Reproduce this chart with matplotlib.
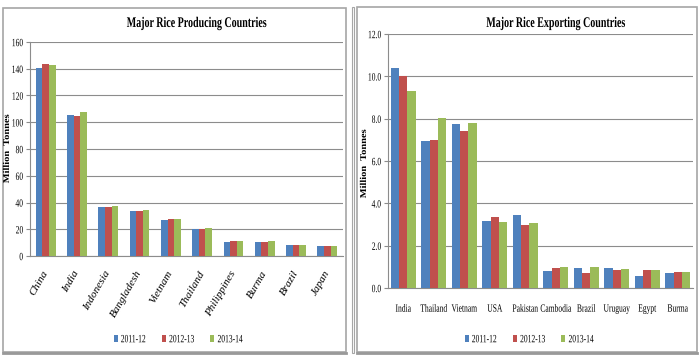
import matplotlib.pyplot as plt
import matplotlib.patches as patches
import matplotlib.patheffects as pe
from matplotlib.transforms import Affine2D
import numpy as np

plt.rcParams['font.family'] = ['Liberation Serif', 'DejaVu Serif']

years = ['2011-12', '2012-13', '2013-14']
colors = ['#4F81BD', '#C0504D', '#9BBB59']

prod_countries = ['China', 'India', 'Indonesia', 'Bangladesh', 'Vietnam',
                  'Thailand', 'Philippines', 'Burma', 'Brazil', 'Japan']
prod_2011 = [140.7, 105.3, 36.5, 33.7, 27.2, 20.2, 10.7, 10.8, 7.9, 7.8]
prod_2012 = [143.4, 104.4, 36.6, 33.8, 27.5, 20.2, 11.4, 10.3, 8.0, 7.8]
prod_2013 = [142.5, 108.0, 37.5, 34.4, 28.0, 21.3, 11.5, 10.9, 8.2, 7.7]

exp_countries = ['India', 'Thailand', 'Vietnam', 'USA', 'Pakistan',
                 'Cambodia', 'Brazil', 'Uruguay', 'Egypt', 'Burma']
exp_2011 = [10.4, 6.95, 7.75, 3.18, 3.45, 0.78, 0.95, 0.95, 0.58, 0.69]
exp_2012 = [10.0, 7.0, 7.4, 3.37, 2.98, 0.94, 0.69, 0.85, 0.85, 0.75]
exp_2013 = [9.3, 8.03, 7.8, 3.1, 3.08, 0.98, 0.98, 0.88, 0.85, 0.75]

SQ = 0.68  # the original picture is squashed sideways


class Stretch(pe.AbstractPathEffect):
    # scale glyphs along local y, about a fraction of the text's own height
    def __init__(self, sy, anchor=0.5):
        super().__init__()
        self.sy = sy
        self.anchor = anchor

    def draw_path(self, renderer, gc, tpath, affine, rgbFace=None):
        ext = tpath.get_extents()
        y0 = ext.y0 + self.anchor * ext.height
        t = Affine2D().translate(0, -y0).scale(1, self.sy).translate(0, y0) + affine
        renderer.draw_path(gc, tpath, t, rgbFace)


def tall(texts, anchor=0.5, sy=1 / SQ):
    for t in texts:
        t.set_path_effects([Stretch(sy, anchor)])


fig = plt.figure(figsize=(7, 3.58), dpi=100)
H = 358.0

# panel frames
fig.patches.append(patches.Rectangle((3/700, 1 - 352/H), 343/700, 344/H,
                   transform=fig.transFigure, fill=False, ec='#a6a6a6', lw=1.2))
fig.patches.append(patches.Rectangle((352/700, 1 - 353/H), 2/700, 346/H,
                   transform=fig.transFigure, fill=False, ec='#a6a6a6', lw=0.8))
fig.patches.append(patches.Rectangle((357/700, 1 - 352/H), 340/700, 345/H,
                   transform=fig.transFigure, fill=False, ec='#a6a6a6', lw=1.2))
fig.add_artist(plt.Line2D([3/700, 346/700], [1 - 353/H] * 2, color='#999999', lw=2))
fig.add_artist(plt.Line2D([357/700, 697/700], [1 - 353/H] * 2, color='#999999', lw=2))


def draw(ax, cats, series, width, ymax, step, fmt, title, tx, legx, labx, laby):
    x = np.arange(len(cats))
    for i, (vals, c, lab) in enumerate(zip(series, colors, years)):
        ax.bar(x + (i - 1) * width, vals, width, color=c, label=lab, zorder=3)
    ax.set_xlim(-0.5, len(cats) - 0.5)
    ax.set_ylim(0, ymax)
    yt = np.arange(0, ymax + step / 2, step)
    ax.set_yticks(yt)
    ax.set_yticklabels([fmt.format(v) for v in yt], fontsize=8 * SQ)
    tall(ax.get_yticklabels())
    ax.yaxis.grid(True, color='#8c8c8c', lw=0.8, zorder=0)
    for s in ['top', 'right']:
        ax.spines[s].set_visible(False)
    ax.spines['left'].set_color('#8c8c8c')
    ax.spines['bottom'].set_color('#8c8c8c')
    ax.tick_params(axis='y', length=3, color='#8c8c8c', pad=2)
    ax.tick_params(axis='x', length=0)
    ax.set_xticks(x)
    yl = fig.text(labx / 700, 1 - laby / H, 'Million  Tonnes', fontsize=7.5,
                  fontweight='bold', rotation=90, ha='center', va='center')
    tall([yl], 0.5, 0.85)
    t = fig.text(tx / 700, 1 - 28 / H, title, fontsize=7.2, fontweight='bold',
                 ha='center', va='baseline')
    tall([t], 0.0)
    leg = ax.legend(loc='center', bbox_to_anchor=(legx / 700, 1 - 339 / H),
                    bbox_transform=fig.transFigure, ncol=3, frameon=False,
                    fontsize=8 * SQ, handlelength=0.55, handleheight=1.1,
                    handletextpad=0.4, columnspacing=2.2, borderpad=0)
    tall(leg.get_texts())


ax1 = fig.add_axes([30/700, 1 - 256/H, 313/700, 214/H])
draw(ax1, prod_countries, [prod_2011, prod_2012, prod_2013], 0.21, 160, 20,
     '{:.0f}', 'Major Rice Producing Countries', 197, 178, 7, 149)
ax1.set_xticklabels(prod_countries, rotation=60, ha='right', va='center',
                    rotation_mode='anchor', fontsize=8, style='italic')
ax1.tick_params(axis='x', pad=11)

ax2 = fig.add_axes([388/700, 1 - 288/H, 305/700, 254/H])
draw(ax2, exp_countries, [exp_2011, exp_2012, exp_2013], 0.27, 12, 2,
     '{:.1f}', 'Major Rice Exporting Countries', 556, 529, 364, 164)
ax2.set_xticklabels(exp_countries, fontsize=8 * SQ)
tall(ax2.get_xticklabels(), 1.0)
ax2.tick_params(axis='x', pad=11)

fig.savefig('out.png', dpi=100)
